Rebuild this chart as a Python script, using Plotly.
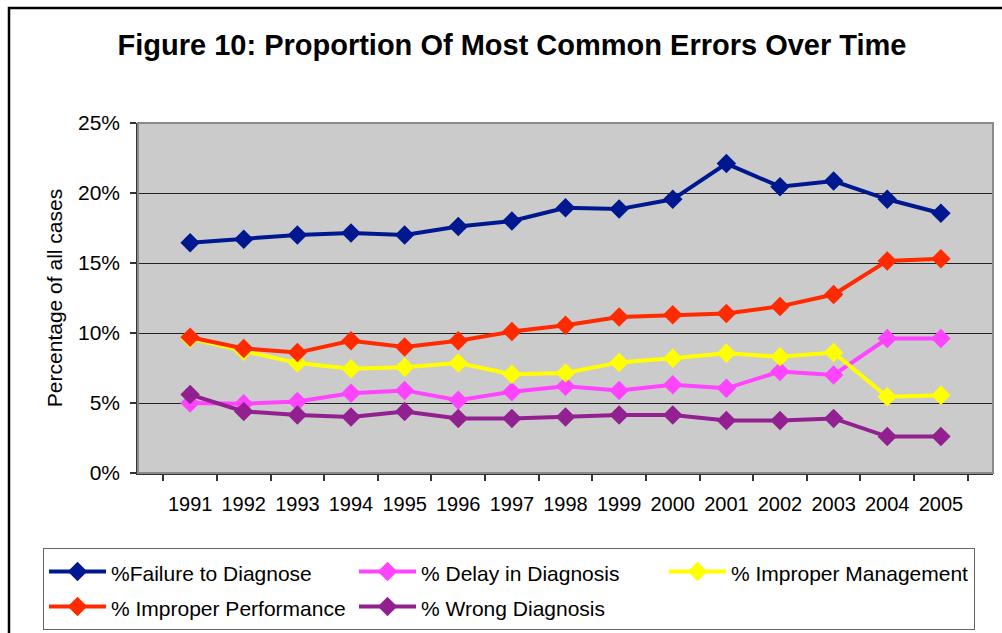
import plotly.graph_objects as go

years = ["1991", "1992", "1993", "1994", "1995", "1996", "1997", "1998",
         "1999", "2000", "2001", "2002", "2003", "2004", "2005"]

failure_to_diagnose = [16.45, 16.7, 17.0, 17.15, 17.0, 17.6, 18.0, 18.95,
                       18.85, 19.55, 22.1, 20.45, 20.85, 19.55, 18.55]
delay_in_diagnosis = [5.0, 4.95, 5.1, 5.7, 5.9, 5.2, 5.8, 6.2,
                      5.9, 6.3, 6.05, 7.25, 7.0, 9.6, 9.6]
improper_management = [9.6, 8.7, 7.85, 7.45, 7.55, 7.85, 7.05, 7.15,
                       7.9, 8.2, 8.55, 8.3, 8.6, 5.45, 5.55]
improper_performance = [9.7, 8.9, 8.6, 9.45, 9.0, 9.45, 10.1, 10.55,
                        11.15, 11.3, 11.4, 11.9, 12.75, 15.15, 15.3]
wrong_diagnosis = [5.6, 4.4, 4.15, 4.0, 4.4, 3.9, 3.9, 4.0,
                   4.15, 4.15, 3.75, 3.75, 3.9, 2.6, 2.6]

series = [
    ("%Failure to Diagnose", failure_to_diagnose, "#00188F"),
    ("% Delay in Diagnosis", delay_in_diagnosis, "#FF44FF"),
    ("% Improper Management", improper_management, "#FFFF00"),
    ("% Improper Performance", improper_performance, "#FF2A00"),
    ("% Wrong Diagnosis", wrong_diagnosis, "#922090"),
]

FONT = "Liberation Sans, Arial, sans-serif"

fig = go.Figure()
for name, vals, color in series:
    fig.add_trace(go.Scatter(
        x=years, y=vals, mode="lines+markers",
        name='<span style="font-size:21px">' + name + "</span>",
        line=dict(color=color, width=4),
        marker=dict(symbol="diamond", size=15, color=color),
    ))

W, H = 1002, 633
L, R, T, B = 138, 9, 123, 160
pw = W - L - R
ph = H - T - B


def px_x(p):
    return (p - L) / pw


def px_y(p):
    return (H - B - p) / ph


fig.update_layout(
    width=W, height=H,
    margin=dict(l=L, r=R, t=T, b=B, autoexpand=False),
    paper_bgcolor="white",
    plot_bgcolor="#CBCBCB",
    font=dict(family=FONT, color="black"),
    title=dict(
        text="<b>Figure 10: Proportion Of Most Common Errors Over Time</b>",
        font=dict(size=29, family=FONT, color="black"),
        x=512 / W, xref="container", xanchor="center",
        y=1 - 45 / H, yref="container", yanchor="middle",
    ),
    xaxis=dict(
        type="category",
        showline=True, linecolor="#333333", linewidth=1.5,
        ticks="outside", ticklen=6, tickcolor="#333333", tickwidth=1.5,
        tickson="boundaries",
        showgrid=False,
        tickangle=0,
        automargin=False,
        tickfont=dict(size=20, family=FONT),
        ticklabelstandoff=12,
    ),
    yaxis=dict(
        range=[0, 25], dtick=5, ticksuffix="%",
        showline=True, linecolor="#333333", linewidth=1.5,
        ticks="outside", ticklen=6, tickcolor="#333333", tickwidth=1.5,
        showgrid=True, gridcolor="#222222", gridwidth=1,
        zeroline=False,
        automargin=False,
        tickfont=dict(size=21, family=FONT),
        ticklabelstandoff=6,
        title=dict(text="Percentage of all cases", font=dict(size=21, family=FONT), standoff=10),
    ),
    legend=dict(
        orientation="h",
        x=px_x(43), y=px_y(548), xanchor="left", yanchor="top",
        xref="paper", yref="paper",
        itemwidth=57,
        entrywidth=238, entrywidthmode="pixels",
        font=dict(size=24.6, family=FONT),
        bordercolor="#666666", borderwidth=1,
        bgcolor="white",
        traceorder="normal",
    ),
    showlegend=True,
)

# plot-area border (gray) and outer chart border (black)
fig.add_shape(type="rect", xref="paper", yref="paper", x0=0, x1=1, y0=0, y1=1,
              line=dict(color="#8A8A8A", width=2), layer="above")
fig.add_shape(type="rect", xref="paper", yref="paper",
              x0=px_x(9), x1=px_x(1015), y0=px_y(645), y1=px_y(8),
              line=dict(color="black", width=2.5), layer="above")

fig.write_html(
    "out.html",
    config={"displayModeBar": False},
    post_script="document.body.style.margin='0px';document.body.style.overflow='hidden';",
)
